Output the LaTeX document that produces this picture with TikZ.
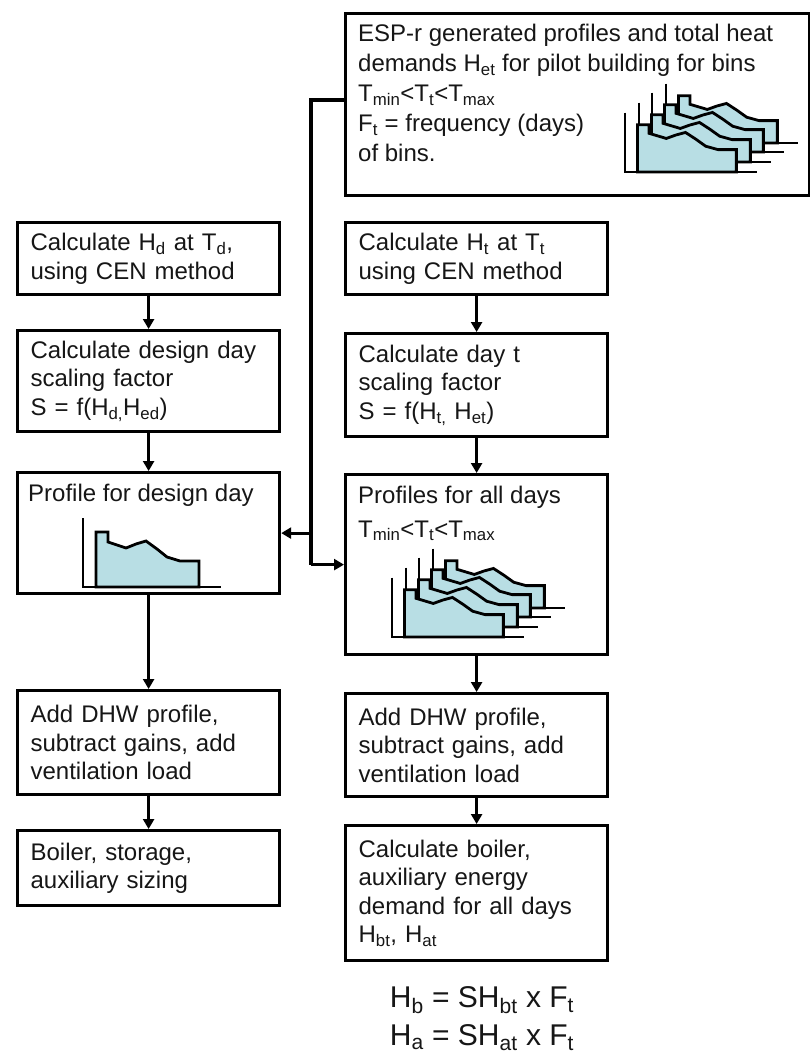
\documentclass[tikz,border=0pt]{standalone}
\usepackage{fontspec}
\setmainfont{Liberation Sans}
\usetikzlibrary{arrows.meta,calc}
\definecolor{profilefill}{RGB}{184,222,228}
\definecolor{ink}{RGB}{22,22,22}
\begin{document}
\begin{tikzpicture}[x=1pt,y=-1pt,
  box/.style={draw=black, line width=3.2pt, rectangle, inner sep=0pt,
    minimum width=262pt, anchor=north west, text width=236pt, align=left,
    text=ink, font=\fontsize{24pt}{28.5pt}\selectfont},
  boxlabel/.style={anchor=north west, inner sep=0pt, align=left, text=ink,
    font=\fontsize{24pt}{28.5pt}\selectfont},
  formula/.style={inner sep=0pt, text=ink, font=\fontsize{30pt}{36pt}\selectfont},
  conn/.style={draw=black, line width=3pt, -{Triangle[length=10pt,width=11pt]}},
  trunk/.style={draw=black, line width=3.6pt},
  chartline/.style={draw=black, line width=2.8pt, line join=miter},
  dayprofile/.pic={
    \draw[chartline] (0,-69) -- (0,0) -- (138,0);
    \draw[chartline, fill=profilefill] (13,0) -- (13,-55) -- (25,-55) -- (25,-45)
      -- (34,-42) -- (43,-39) -- (53,-43) -- (63,-46) -- (74,-38) -- (84,-30)
      -- (97,-26) -- (116,-26) -- (116,0) -- cycle;
  },
  profilestack/.pic={
    \foreach \dx/\dy in {41/-29, 27/-20, 14/-10, 0/0} {
      \begin{scope}[shift={(\dx,\dy)}, xscale=.96, yscale=.86]
        \draw[chartline] (0,-69) -- (0,0) -- (138,0);
        \draw[chartline, fill=profilefill] (13,0) -- (13,-55) -- (25,-55) -- (25,-45)
          -- (34,-42) -- (43,-39) -- (53,-43) -- (63,-46) -- (74,-38) -- (84,-30)
          -- (97,-26) -- (116,-26) -- (116,0) -- cycle;
      \end{scope}
    }
  }
]
\useasboundingbox[fill=white] (0,0) rectangle (810,1055);

% top box: simulated profiles
\node[box, minimum width=464pt, minimum height=182pt, text width=440pt] (esp) at (344,12) {};
\node[boxlabel, font=\fontsize{24pt}{30pt}\selectfont] (esptext) at ($(esp.north west)+(14,12)$)
  {ESP-r generated profiles and total heat\\
   demands H\textsubscript{et} for pilot building for bins\\
   T\textsubscript{min}<T\textsubscript{t}<T\textsubscript{max}\\
   F\textsubscript{t} = frequency (days)\\
   of bins.};
\pic at (625,172) {profilestack};

% left column: design day
\node[box, minimum height=72pt] (L1) at (16,221)
  {Calculate H\textsubscript{d} at T\textsubscript{d},\\ using CEN method};
\node[box, minimum height=101pt] (L2) at (16,329)
  {Calculate design day\\ scaling factor\\ S = f(H\textsubscript{d,}H\textsubscript{ed})};
\node[box, minimum height=121pt] (L3) at (16,471) {};
\node[boxlabel] (L3text) at ($(L3.north west)+(12,13)$) {Profile for design day};
\pic at (83,587) {dayprofile};
\node[box, minimum height=104pt] (L4) at (16,689)
  {Add DHW profile,\\ subtract gains, add\\ ventilation load};
\node[box, minimum height=75pt] (L5) at (16,829)
  {Boiler, storage,\\ auxiliary sizing};

% right column: all days
\node[box, minimum height=72pt] (R1) at (344,221)
  {Calculate H\textsubscript{t} at T\textsubscript{t}\\ using CEN method};
\node[box, minimum height=103pt] (R2) at (344,332)
  {Calculate day t\\ scaling factor\\ S = f(H\textsubscript{t,} H\textsubscript{et})};
\node[box, minimum height=180pt] (R3) at (344,473) {};
\node[boxlabel] (R3text) at ($(R3.north west)+(14,13)$)
  {Profiles for all days\\[5pt] T\textsubscript{min}<T\textsubscript{t}<T\textsubscript{max}};
\pic at (392,637) {profilestack};
\node[box, minimum height=103pt] (R4) at (344,692)
  {Add DHW profile,\\ subtract gains, add\\ ventilation load};
\node[box, minimum height=135pt] (R5) at (344,824)
  {Calculate boiler,\\ auxiliary energy\\ demand for all days\\ H\textsubscript{bt}, H\textsubscript{at}};

% totals
\node[formula] (hb) at (482,1000) {H\textsubscript{b} = SH\textsubscript{bt} x F\textsubscript{t}};
\node[formula] (ha) at (482,1038) {H\textsubscript{a} = SH\textsubscript{at} x F\textsubscript{t}};

% connectors
\draw[conn] (L1) -- (L2);
\draw[conn] (L2) -- (L3);
\draw[conn] (L3) -- (L4);
\draw[conn] (L4) -- (L5);
\draw[conn] (R1) -- (R2);
\draw[conn] (R2) -- (R3);
\draw[conn] (R3) -- (R4);
\draw[conn] (R4) -- (R5);

\coordinate (tap) at (311,100);
\draw[trunk] (esp.west |- tap) -- (tap) -- (tap |- R3.west);
\draw[conn, line width=2.6pt] (tap |- R3.west) -- (R3.west);
\draw[conn] (tap |- L3.east) -- (L3.east);
\end{tikzpicture}
\end{document}
